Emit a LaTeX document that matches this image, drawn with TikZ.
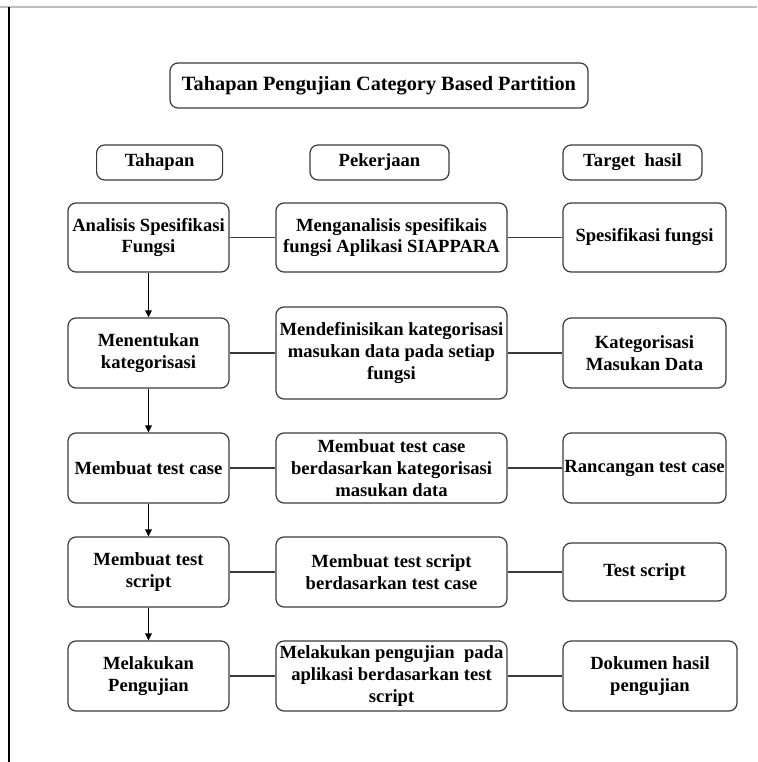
\documentclass[tikz,border=0pt]{standalone}
\usepackage{fontspec}
\setmainfont{Liberation Serif}
\usetikzlibrary{arrows.meta}
\definecolor{linec}{HTML}{3A3A3A}
\definecolor{topc}{HTML}{BDBDBD}
\begin{document}
\begin{tikzpicture}[x=1pt,y=-1pt,
  box/.style={draw=linec, line width=1.2pt, rounded corners=8pt, align=center, inner sep=0pt,
    font=\bfseries\fontsize{18.6}{21.7}\selectfont},
  bx/.style 2 args={box, minimum width=#1pt, minimum height=#2pt},
  conn/.style={draw=linec, line width=1.2pt},
  arr/.style={draw=black, line width=1.2pt, -{Triangle[length=7pt,width=6.5pt]}}]
\useasboundingbox (0,0) rectangle (757,762);
% frame lines
\coordinate (tl) at (0,7);
\coordinate (tr) at (757,7);
\coordinate (vl) at (9,7);
\coordinate (vb) at (9,762);
\draw[topc, line width=1.5pt] (tl) -- (tr);
\draw[black, line width=1.3pt] (vl) -- (vb);
% title and headers
\node[bx={418}{45}, font=\bfseries\fontsize{20.3}{24}\selectfont] (title) at (379,85.5) {Tahapan Pengujian Category Based Partition};
\node[bx={126}{35}] (h1) at (159.6,162.5) {Tahapan};
\node[bx={139}{35}] (h2) at (379.5,162.5) {Pekerjaan};
\node[bx={139}{35}] (h3) at (632.5,162.5) {Target~ hasil};
% row 1
\node[bx={161}{69}] (L1) at (148.5,237.5) {Analisis Spesifikasi\\Fungsi};
\node[bx={231}{69}] (M1) at (391.5,237.5) {Menganalisis spesifikais\\fungsi Aplikasi SIAPPARA};
\node[bx={163}{69}] (R1) at (644.5,237.5) {Spesifikasi fungsi};
% row 2
\node[bx={161}{70}] (L2) at (148.5,353) {Menentukan\\kategorisasi};
\node[bx={231}{92}] (M2) at (391.5,353) {Mendefinisikan kategorisasi\\masukan data pada setiap\\fungsi};
\node[bx={163}{70}] (R2) at (644.5,353) {Kategorisasi\\Masukan Data};
% row 3
\node[bx={161}{70}] (L3) at (148.5,468) {Membuat test case};
\node[bx={231}{70}] (M3) at (391.5,468) {Membuat test case\\berdasarkan kategorisasi\\masukan data};
\node[bx={163}{70}] (R3) at (644.5,468) {Rancangan test case};
% row 4
\node[bx={161}{70}] (L4) at (148.5,572) {Membuat test\\script};
\node[bx={231}{70}] (M4) at (391.5,572) {Membuat test script\\berdasarkan test case};
\node[bx={163}{58}] (R4) at (644.5,572) {Test script};
% row 5
\node[bx={161}{70}] (L5) at (148.5,676) {Melakukan\\Pengujian};
\node[bx={231}{70}] (M5) at (391.5,676) {Melakukan pengujian~ pada\\aplikasi berdasarkan test\\script};
\node[bx={174}{70}] (R5) at (650,676) {Dokumen hasil\\pengujian};
% horizontal connectors
\foreach \r in {1,...,5}{
  \draw[conn] (L\r) -- (M\r);
  \draw[conn] (M\r) -- (R\r);
}
% vertical arrows
\draw[arr] (L1) -- (L2);
\draw[arr] (L2) -- (L3);
\draw[arr] (L3) -- (L4);
\draw[arr] (L4) -- (L5);
\end{tikzpicture}
\end{document}
